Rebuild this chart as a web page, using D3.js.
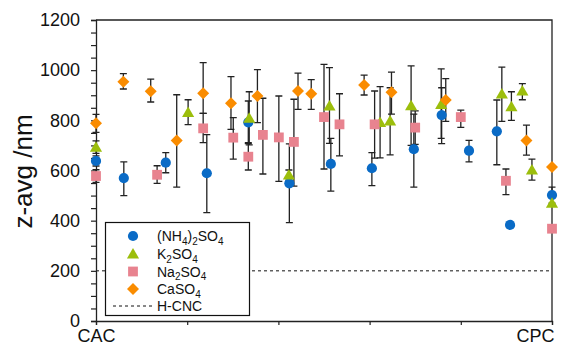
<!DOCTYPE html>
<html>
<head>
<meta charset="utf-8">
<script src="https://cdn.jsdelivr.net/npm/d3@7"></script>
<style>
  html, body { margin: 0; padding: 0; background: #fff; }
  svg { display: block; font-family: Arial, "Liberation Sans", sans-serif; }
</style>
</head>
<body>
<svg id="chart" width="561" height="351"></svg>
<script>
/* global d3 */

// position along CAC -> CPC (0..1), z-avg (nm), error bar low, error bar high
const ammonium = [
  [0.000, 638, 618, 658],
  [0.061, 570, 500, 634],
  [0.153, 631, 591, 671],
  [0.243, 589, 432, 743],
  [0.334, 792, 707, 877],
  [0.424, 549, 392, 706],
  [0.515, 626, 518, 728],
  [0.605, 609, 540, 671],
  [0.697, 685, 534, 825],
  [0.758, 821, 707, 930],
  [0.818, 679, 634, 720],
  [0.879, 756, 623, 881],
  [0.908, 383, 383, 383],
  [1.000, 502, 470, 534],
];

const potassium = [
  [0.000, 693, 668, 718],
  [0.202, 831, 783, 882],
  [0.336, 808, 702, 914],
  [0.423, 582, 562, 602],
  [0.512, 857, 708, 1010],
  [0.623, 791, 650, 934],
  [0.645, 797, 662, 930],
  [0.691, 858, 700, 1017],
  [0.757, 863, 728, 1005],
  [0.890, 905, 796, 1012],
  [0.911, 854, 800, 914],
  [0.935, 917, 882, 946],
  [0.956, 602, 562, 645],
  [1.000, 469, 469, 469],
];

const sodium = [
  [0.000, 578, 553, 603],
  [0.134, 583, 549, 619],
  [0.235, 768, 711, 828],
  [0.301, 731, 645, 811],
  [0.334, 655, 602, 711],
  [0.366, 742, 586, 888],
  [0.401, 732, 557, 897],
  [0.434, 714, 538, 884],
  [0.500, 813, 606, 1023],
  [0.534, 784, 658, 906],
  [0.611, 784, 649, 917],
  [0.700, 771, 704, 838],
  [0.800, 813, 772, 841],
  [0.899, 559, 504, 606],
  [1.000, 368, 368, 368],
];

const calcium = [
  [0.000, 788, 752, 824],
  [0.060, 954, 925, 986],
  [0.120, 916, 873, 964],
  [0.177, 720, 534, 902],
  [0.235, 908, 828, 1030],
  [0.296, 868, 764, 974],
  [0.354, 897, 791, 1002],
  [0.443, 917, 844, 988],
  [0.472, 906, 844, 962],
  [0.588, 941, 901, 980],
  [0.648, 912, 825, 992],
  [0.767, 881, 796, 966],
  [0.944, 720, 661, 781],
  [1.000, 614, 614, 614],
];

const hcnc = 200;

const xTicks = [0, 0.2, 0.4, 0.6, 0.8, 1];
const xTickLabels = ['CAC', '', '', '', '', 'CPC'];
const yMajor = [0, 200, 400, 600, 800, 1000, 1200];

// legend names: plain strings, subscripts in arrays
const series = [
  { name: ['(NH', ['4'], ')', ['2'], 'SO', ['4']], data: ammonium, shape: 'circle', color: '#0A6BC6' },
  { name: ['K', ['2'], 'SO', ['4']], data: potassium, shape: 'triangle', color: '#9CBE0C' },
  { name: ['Na', ['2'], 'SO', ['4']], data: sodium, shape: 'square', color: '#E8838F' },
  { name: ['CaSO', ['4']], data: calcium, shape: 'diamond', color: '#FA8C00' },
];

const svg = d3.select('#chart');
const margin = { top: 20, right: 9, bottom: 30, left: 96 };
const W = 561, H = 351;

const x = d3.scaleLinear().domain([0, 1]).range([margin.left, W - margin.right]);
const y = d3.scaleLinear().domain([0, 1200]).range([H - margin.bottom, margin.top]);

const symbols = {
  circle: d3.symbol().type(d3.symbolCircle).size(82),
  triangle: d3.symbol().type(d3.symbolTriangle).size(64),
  square: d3.symbol().type(d3.symbolSquare).size(96),
  diamond: 'M0,-6L6,0L0,6L-6,0Z',
};

// plot frame (top + right)
svg.append('path')
  .attr('d', `M${x(0)},${y(1200)}H${x(1)}V${y(0)}`)
  .attr('fill', 'none')
  .attr('stroke', '#222')
  .attr('stroke-width', 1.3);

// H-CNC reference line
svg.append('line')
  .attr('x1', x(0)).attr('x2', x(1))
  .attr('y1', y(hcnc)).attr('y2', y(hcnc))
  .attr('stroke', '#111')
  .attr('stroke-width', 1)
  .attr('stroke-dasharray', '3,3');

// y axis
const yAxis = svg.append('g')
  .attr('transform', `translate(${margin.left},0)`)
  .call(d3.axisLeft(y)
    .tickValues(d3.range(0, 1201, 50))
    .tickSize(5)
    .tickPadding(11)
    .tickFormat((d) => (yMajor.includes(d) ? d : '')));
yAxis.select('.domain').attr('stroke', '#222').attr('stroke-width', 1.3);
yAxis.selectAll('.tick line').attr('stroke', '#222').attr('stroke-width', 1.2);
yAxis.selectAll('.tick text').filter((d) => !yMajor.includes(d)).remove();
yAxis.selectAll('.tick text').attr('font-size', 18).attr('fill', '#111')
  .attr('font-family', 'Arial, "Liberation Sans", sans-serif');

// x axis
const xAxis = svg.append('g')
  .attr('transform', `translate(0,${H - margin.bottom})`)
  .call(d3.axisBottom(x)
    .tickValues(xTicks)
    .tickSize(4)
    .tickPadding(4)
    .tickFormat((d, i) => xTickLabels[i]));
xAxis.select('.domain').attr('stroke', '#222').attr('stroke-width', 1.3);
xAxis.selectAll('.tick line').attr('stroke', '#222').attr('stroke-width', 1.2);
xAxis.selectAll('.tick text').filter((d, i) => !xTickLabels[i]).remove();
xAxis.selectAll('.tick text').attr('font-size', 18).attr('fill', '#111')
  .attr('font-family', 'Arial, "Liberation Sans", sans-serif')
  .attr('text-anchor', (d) => (d === 1 ? 'end' : 'middle'))
  .attr('dx', (d) => (d === 1 ? 2 : 0));

// y title
svg.append('text')
  .attr('transform', `translate(32,${y(600) + 1}) rotate(-90)`)
  .attr('text-anchor', 'middle')
  .attr('font-size', 26)
  .attr('fill', '#111')
  .text('z-avg /nm');

// error bars
const capW = 3.5;
series.forEach((s) => {
  const g = svg.append('g')
    .attr('stroke', '#222')
    .attr('stroke-width', 1.3)
    .attr('fill', 'none');
  s.data.filter((d) => d[3] > d[2]).forEach((d) => {
    const cx = x(d[0]);
    g.append('path')
      .attr('d', `M${cx},${y(d[2])}V${y(d[3])}` +
        `M${cx - capW},${y(d[2])}H${cx + capW}` +
        `M${cx - capW},${y(d[3])}H${cx + capW}`);
  });
});

// markers
series.forEach((s) => {
  svg.append('g')
    .selectAll('path')
    .data(s.data)
    .join('path')
    .attr('transform', (d) => `translate(${x(d[0])},${y(d[1]) + (s.shape === 'triangle' ? 1 : 0)})`)
    .attr('d', symbols[s.shape])
    .attr('fill', s.color);
});

// legend
const lg = svg.append('g');
lg.append('rect')
  .attr('x', 105.5).attr('y', 222.5)
  .attr('width', 144).attr('height', 93)
  .attr('fill', '#fff')
  .attr('stroke', '#111')
  .attr('stroke-width', 1.2);

const rowY = [236, 254, 271.5, 289, 306];
function addName(t, parts) {
  let shifted = false;
  parts.forEach((p) => {
    if (Array.isArray(p)) {
      t.append('tspan').attr('dy', shifted ? 0 : 3.5).attr('font-size', 10).text(p[0]);
      shifted = true;
    } else {
      t.append('tspan').attr('dy', shifted ? -3.5 : 0).text(p);
      shifted = false;
    }
  });
}
series.forEach((s, i) => {
  lg.append('path')
    .attr('transform', `translate(133,${rowY[i] + (s.shape === 'triangle' ? 1 : 0)})`)
    .attr('d', symbols[s.shape])
    .attr('fill', s.color);
  const t = lg.append('text')
    .attr('x', 157).attr('y', rowY[i] + 5)
    .attr('font-size', 14)
    .attr('fill', '#111');
  addName(t, s.name);
});
lg.append('line')
  .attr('x1', 113).attr('x2', 153)
  .attr('y1', rowY[4]).attr('y2', rowY[4])
  .attr('stroke', '#111')
  .attr('stroke-dasharray', '3,3');
lg.append('text')
  .attr('x', 157).attr('y', rowY[4] + 5)
  .attr('font-size', 14)
  .attr('fill', '#111')
  .text('H-CNC');
</script>
</body>
</html>
